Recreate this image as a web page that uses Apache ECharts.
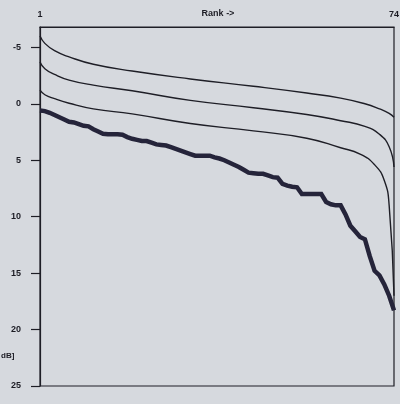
<!DOCTYPE html>
<html>
<head>
<meta charset="utf-8">
<script src="https://cdn.jsdelivr.net/npm/echarts@6/dist/echarts.min.js"></script>
<style>
  html, body { margin: 0; padding: 0; background: #d6d9de; }
  #main { width: 400px; height: 404px; }
</style>
</head>
<body>
<div id="main"></div>
<script>
// rank positions read for the three smooth curves
var curveA = [[1,-6.0],[2,-5.35],[4,-4.7],[7,-4.15],[12,-3.5],[20,-2.9],[32,-2.2],[45,-1.55],[56,-0.95],[63,-0.5],[68,0.0],[71,0.45],[73,0.85],[74,1.2]];
var curveB = [[1,-3.7],[2,-3.1],[4,-2.6],[7,-2.1],[12,-1.65],[20,-1.15],[32,-0.3],[45,0.35],[56,0.95],[63,1.5],[68,2.0],[71,2.7],[73,3.8],[74,5.6]];
var curveC = [[1,-1.2],[2,-0.8],[4,-0.45],[7,-0.05],[12,0.45],[20,0.9],[32,1.75],[45,2.4],[56,3.05],[63,3.9],[67,4.45],[70,5.4],[72,6.8],[73,9.0],[74,17.0]];

// thick measured curve, one value per rank 1..74
var measured = [0.6,0.65,0.8,1.0,1.2,1.4,1.6,1.65,1.8,1.95,
  2.0,2.25,2.45,2.65,2.7,2.7,2.7,2.75,2.95,3.1,
  3.2,3.3,3.3,3.45,3.6,3.65,3.7,3.85,4.0,4.15,
  4.3,4.45,4.6,4.6,4.6,4.6,4.75,4.85,5.0,5.2,
  5.4,5.6,5.85,6.1,6.15,6.2,6.2,6.35,6.5,6.55,
  7.1,7.25,7.35,7.4,8.0,8.0,8.0,8.0,8.0,8.7,
  8.9,9.0,9.0,9.8,10.8,11.3,11.8,12.0,13.5,14.8,
  15.2,16.0,17.0,18.3];

var yTicks = [-5, 0, 5, 10, 15, 20, 25];
var xTicks = [1, 74];

var measuredPts = [];
for (var i = 0; i < measured.length; i++) {
  measuredPts.push([i + 1, measured[i]]);
}

var txt = { color: '#1c1c24', fontFamily: 'Liberation Sans', fontWeight: 'bold', fontSize: 9 };

var myChart = echarts.init(document.getElementById('main'));

function thin(data) {
  return {
    type: 'line', data: data, smooth: 0.5,
    showSymbol: false, silent: true,
    lineStyle: { color: '#1e1e26', width: 1.4 }
  };
}

var option = {
  backgroundColor: '#d6d9de',
  animation: false,
  grid: { left: 40, right: 6, top: 27, bottom: 18, outerBoundsMode: 'none',
    show: true, borderColor: '#1e1e26', borderWidth: 1.2 },
  xAxis: {
    type: 'value', position: 'top', min: 1, max: 74,
    axisLine: { show: true, onZero: false, lineStyle: { color: '#1e1e26', width: 1.2 } },
    axisTick: { show: false },
    splitLine: { show: false },
    axisLabel: Object.assign({ customValues: xTicks, margin: 8 }, txt)
  },
  yAxis: {
    type: 'value', inverse: true, min: -6.8, max: 25,
    axisLine: { show: true, onZero: false, lineStyle: { color: '#1e1e26', width: 1.2 } },
    axisTick: { show: true, customValues: yTicks, length: 9, lineStyle: { color: '#1e1e26', width: 1.2 } },
    splitLine: { show: false },
    axisLabel: Object.assign({ customValues: yTicks, margin: 19 }, txt)
  },
  graphic: [{
    type: 'text', x: 218, y: 14,
    style: { text: 'Rank ->', fill: '#1c1c24', font: 'bold 9px "Liberation Sans"',
      textAlign: 'center', textVerticalAlign: 'middle' }
  }, {
    type: 'text', left: 1, top: 352,
    style: { text: 'dB]', fill: '#1c1c24', font: 'bold 8px "Liberation Sans"' }
  }],
  series: [
    thin(curveA),
    thin(curveB),
    thin(curveC),
    {
      type: 'line', data: measuredPts, showSymbol: false, silent: true,
      lineStyle: { color: '#25243a', width: 4.5, join: 'miter' }
    }
  ]
};
myChart.setOption(option);
</script>
</body>
</html>
